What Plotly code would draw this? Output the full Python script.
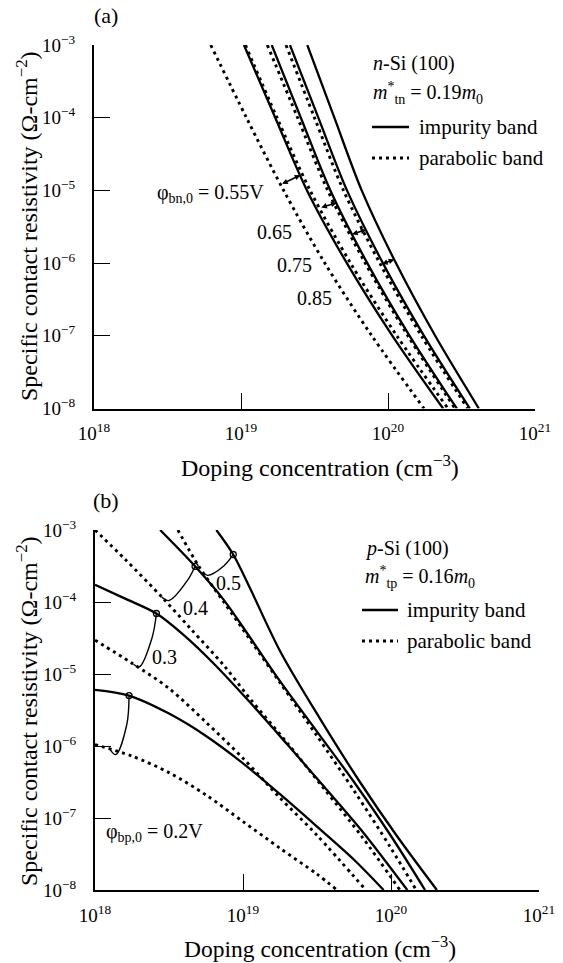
import numpy as np
import plotly.graph_objects as go

W, H = 563, 963

# ---------------- DATA (log10 values) ----------------
# Panel (a): n-Si(100). Each curve: log10(N) where it crosses these log10(rho_c) levels
a_logR = [-3, -4, -5, -6, -7, -8]
a_par_055 = [18.794, 19.037, 19.290, 19.570, 19.890, 20.245]
a_imp_055 = [19.020, 19.233, 19.449, 19.720, 20.030, 20.375]
a_par_065 = [19.030, 19.245, 19.470, 19.745, 20.060, 20.408]
a_imp_065 = [19.209, 19.407, 19.608, 19.859, 20.147, 20.468]
a_par_075 = [19.179, 19.385, 19.590, 19.845, 20.135, 20.456]
a_imp_075 = [19.333, 19.526, 19.721, 19.965, 20.245, 20.557]
a_par_085 = [19.306, 19.500, 19.697, 19.944, 20.227, 20.542]
a_imp_085 = [19.451, 19.635, 19.821, 20.054, 20.321, 20.618]
a_barriers = ["0.55", "0.65", "0.75", "0.85"]

# Panel (b): p-Si(100). (log10 N, log10 rho_c) pairs
b_imp_02_N = [18.00, 18.23, 18.50, 18.75, 19.00, 19.25, 19.50, 19.75, 19.95]
b_imp_02_R = [-5.22, -5.30, -5.55, -5.86, -6.24, -6.67, -7.12, -7.58, -8.00]
b_par_02_N = [18.00, 18.25, 18.50, 18.75, 19.00, 19.25, 19.50, 19.635]
b_par_02_R = [-5.98, -6.14, -6.37, -6.68, -7.05, -7.42, -7.78, -8.00]
b_imp_03_N = [18.00, 18.20, 18.415, 18.60, 18.80, 19.05, 19.30, 19.55, 19.80, 20.11]
b_imp_03_R = [-3.76, -3.95, -4.16, -4.46, -4.85, -5.40, -5.98, -6.57, -7.17, -8.00]
b_par_03_N = [18.00, 18.25, 18.50, 18.75, 19.00, 19.25, 19.50, 19.83]
b_par_03_R = [-4.53, -4.85, -5.20, -5.67, -6.17, -6.72, -7.24, -8.00]
b_imp_04_N = [18.44, 18.67, 18.87, 19.05, 19.25, 19.50, 19.75, 20.00, 20.23]
b_imp_04_R = [-3.00, -3.49, -3.97, -4.50, -5.10, -5.80, -6.50, -7.25, -8.00]
b_par_04_N = [18.00, 18.20, 18.46, 18.65, 18.87, 19.05, 19.30, 19.55, 19.80, 20.06]
b_par_04_R = [-3.00, -3.40, -3.95, -4.38, -4.88, -5.35, -5.96, -6.60, -7.25, -8.00]
b_imp_05_N = [18.82, 18.934, 19.05, 19.25, 19.52, 19.79, 20.04, 20.31]
b_imp_05_R = [-3.00, -3.34, -3.82, -4.68, -5.62, -6.50, -7.25, -8.00]
b_par_05_N = [18.56, 18.70, 18.87, 19.05, 19.25, 19.50, 19.75, 20.00, 20.17]
b_par_05_R = [-3.00, -3.50, -4.00, -4.53, -5.12, -5.86, -6.62, -7.42, -8.00]

x_tickvals = [1e18, 1e19, 1e20, 1e21]
x_ticktext = ["10<sup>18</sup>", "10<sup>19</sup>", "10<sup>20</sup>", "10<sup>21</sup>"]
y_tickvals = [1e-8, 1e-7, 1e-6, 1e-5, 1e-4, 1e-3]
y_ticktext = ["10<sup>−8</sup>", "10<sup>−7</sup>", "10<sup>−6</sup>", "10<sup>−5</sup>",
              "10<sup>−4</sup>", "10<sup>−3</sup>"]

# ---------------- FIGURE ----------------
FONT = "Liberation Serif"
SOLID = dict(color="black", width=2.3, shape="spline", smoothing=0.9)
DOT = dict(color="black", width=2.9, dash="3px,4px", shape="spline", smoothing=0.9)

fig = go.Figure()

def add_curve(lN, lR, line, xa, ya):
    fig.add_trace(go.Scatter(x=10 ** np.asarray(lN, float), y=10 ** np.asarray(lR, float),
                             mode="lines", line=line, xaxis=xa, yaxis=ya,
                             showlegend=False, hoverinfo="skip"))

a_pars = [a_par_055, a_par_065, a_par_075, a_par_085]
a_imps = [a_imp_055, a_imp_065, a_imp_075, a_imp_085]
for p, s in zip(a_pars, a_imps):
    add_curve(p, a_logR, DOT, "x", "y")
    add_curve(s, a_logR, SOLID, "x", "y")

b_curves = [
    (b_par_02_N, b_par_02_R, DOT), (b_imp_02_N, b_imp_02_R, SOLID),
    (b_par_03_N, b_par_03_R, DOT), (b_imp_03_N, b_imp_03_R, SOLID),
    (b_par_04_N, b_par_04_R, DOT), (b_imp_04_N, b_imp_04_R, SOLID),
    (b_par_05_N, b_par_05_R, DOT), (b_imp_05_N, b_imp_05_R, SOLID),
]
for n, r, ln in b_curves:
    add_curve(n, r, ln, "x2", "y2")

def at_R(curve, r):
    # log N of a panel (a) curve at log rho level r
    return float(np.interp(-r, -np.asarray(a_logR, float), curve))

def at_N(nn, rr, n):
    return float(np.interp(n, nn, rr))

annotations = []
shapes = []

# panel (a) double-arrow connectors between parabolic and impurity curves
a_levels = [(-4.92, -4.79), (-5.24, -5.17), (-5.61, -5.54), (-6.02, -5.95)]
for p, s, (rd, rs) in zip(a_pars, a_imps, a_levels):
    annotations.append(dict(x=at_R(s, rs), y=rs, ax=at_R(p, rd), ay=rd,
                            xref="x", yref="y", axref="x", ayref="y", text="",
                            showarrow=True, arrowhead=2, arrowside="end+start",
                            arrowsize=0.7, arrowwidth=1.6, arrowcolor="black"))

# panel (b) hook connectors (circle on impurity curve, hook on parabolic curve)
b_hooks = [
    ((b_imp_02_N, b_imp_02_R, 18.23), (b_par_02_N, b_par_02_R, 18.10), (18.215, -5.70), (18.14, -6.12)),
    ((b_imp_03_N, b_imp_03_R, 18.415), (b_par_03_N, b_par_03_R, 18.26), (18.385, -4.50), (18.30, -4.90)),
    ((b_imp_04_N, b_imp_04_R, 18.676), (b_par_04_N, b_par_04_R, 18.451), (18.625, -3.70), (18.50, -3.98)),
    ((b_imp_05_N, b_imp_05_R, 18.934), (b_par_05_N, b_par_05_R, 18.728), (18.87, -3.50), (18.76, -3.63)),
]
for (sn, sr, s0), (dn, dr, d0), m, b in b_hooks:
    p0 = (s0, at_N(sn, sr, s0))
    h = (d0, at_N(dn, dr, d0))
    xs = [p0[0], m[0], b[0], h[0]]
    ys = [p0[1], m[1], b[1], h[1]]
    fig.add_trace(go.Scatter(x=10 ** np.array(xs), y=10 ** np.array(ys), mode="lines",
                             line=dict(color="black", width=1.4, shape="spline", smoothing=1.0),
                             xaxis="x2", yaxis="y2", showlegend=False, hoverinfo="skip"))
    fig.add_trace(go.Scatter(x=[10 ** p0[0]], y=[10 ** p0[1]], mode="markers",
                             marker=dict(symbol="circle-open", size=6, color="black",
                                         line=dict(width=1.3)),
                             xaxis="x2", yaxis="y2", showlegend=False, hoverinfo="skip"))

def P(x, y):
    return x / W, 1 - y / H

def text(x, y, s, size=19, xanchor="center", yanchor="middle", angle=0):
    px, py = P(x, y)
    annotations.append(dict(x=px, y=py, xref="paper", yref="paper", text=s,
                            showarrow=False, xanchor=xanchor, yanchor=yanchor,
                            textangle=angle, font=dict(family=FONT, size=size, color="black")))

# panel labels
text(106, 16, "(a)", size=22)
text(106, 501, "(b)", size=22)

# axis titles
ytitle = "Specific contact resistivity (Ω-cm<sup>−2</sup>)"
xtitle = "Doping concentration (cm<sup>−3</sup>)"
text(27, 226, ytitle, size=24, angle=-90)
text(27, 711, ytitle, size=24, angle=-90)
text(320, 466, xtitle, size=24)
text(320, 947, xtitle, size=23.5)

# curve labels panel (a)
text(266, 193, "φ<sub>bn,0</sub> = 0.55V", size=20, xanchor="right")
text(274, 232, a_barriers[1], size=20)
text(294, 265, a_barriers[2], size=20)
text(314, 298, a_barriers[3], size=20)
# curve labels panel (b)
text(228, 583, "0.5", size=20)
text(195, 608, "0.4", size=20)
text(164, 657, "0.3", size=20)
text(104, 832, "φ<sub>bp,0</sub> = 0.2V", size=20, xanchor="left")

# legends
def legend_block(x0, y0, title, mass, line_x0, line_x1, text_x, y_imp, y_par):
    text(x0, y0, title, size=20, xanchor="left")
    text(x0, y0 + 29, mass, size=20, xanchor="left")
    for yy, dash, w in [(y_imp, "solid", 2.3), (y_par, "3px,4px", 2.9)]:
        a, b = P(line_x0, yy)
        c, d = P(line_x1, yy)
        shapes.append(dict(type="line", xref="paper", yref="paper", x0=a, y0=b, x1=c, y1=d,
                           line=dict(color="black", width=w, dash=dash)))
    text(text_x, y_imp, "impurity band", size=21, xanchor="left")
    text(text_x, y_par, "parabolic band", size=21, xanchor="left")

legend_block(371, 64, "<i>n</i>-Si (100)", "<i>m</i><sup>*</sup><sub>tn</sub> = 0.19<i>m</i><sub>0</sub>",
             372, 409, 417, 127, 158)
legend_block(363, 548, "<i>p</i>-Si (100)", "<i>m</i><sup>*</sup><sub>tp</sub> = 0.16<i>m</i><sub>0</sub>",
             362, 398, 405, 610, 641)

axis_common = dict(type="log", showline=True, linecolor="black", linewidth=2, mirror=False,
                   ticks="inside", ticklen=16, tickwidth=1.4, tickcolor="black",
                   showgrid=False, zeroline=False, automargin=False,
                   tickfont=dict(family=FONT, size=19, color="black"))

fig.update_layout(
    width=W, height=H, margin=dict(l=0, r=0, t=0, b=0, pad=0),
    paper_bgcolor="white", plot_bgcolor="white", showlegend=False,
    xaxis=dict(axis_common, domain=[94 / W, 535 / W], anchor="y", range=[18, 21],
               tickvals=x_tickvals, ticktext=x_ticktext, ticklabelstandoff=7),
    yaxis=dict(axis_common, domain=[1 - 408.5 / H, 1 - 45 / H], anchor="x", range=[-8, -3],
               tickvals=y_tickvals, ticktext=y_ticktext, ticklabelstandoff=13),
    xaxis2=dict(axis_common, domain=[95 / W, 539 / W], anchor="y2", range=[18, 21],
                tickvals=x_tickvals, ticktext=x_ticktext, ticklabelstandoff=7),
    yaxis2=dict(axis_common, domain=[1 - 890 / H, 1 - 530 / H], anchor="x2", range=[-8, -3],
                tickvals=y_tickvals, ticktext=y_ticktext, ticklabelstandoff=13),
    annotations=annotations, shapes=shapes,
)

fig.write_html("out.html")
